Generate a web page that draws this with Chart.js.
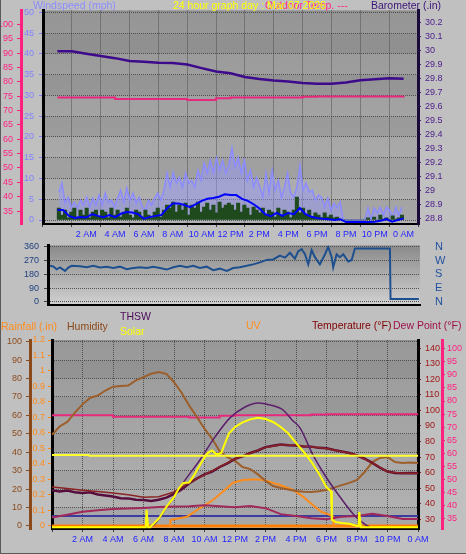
<!DOCTYPE html>
<html>
<head>
<meta charset="utf-8">
<title>24 hour graph</title>
<script src="https://cdn.jsdelivr.net/npm/chart.js@4.4.1/dist/chart.umd.min.js"></script>
<style>
  html, body { margin: 0; padding: 0; }
  body {
    position: relative; width: 466px; height: 554px; overflow: hidden;
    background: #c0c0c0; font-family: 'Liberation Sans', Arial, sans-serif;
  }
  canvas { position: absolute; left: 0; }
  .frame {
    position: absolute; left: 0; top: 0; width: 465px; height: 553px;
    border-left: 1px solid #5a5a5a; border-bottom: 1px solid #5a5a5a;
  }
  .lbl { position: absolute; font-size: 10.5px; line-height: 12px; white-space: nowrap; }
</style>
</head>
<body>
<canvas id="topChart" width="466" height="246" style="top:0"></canvas>
<canvas id="dirChart" width="466" height="80" style="top:235px"></canvas>
<canvas id="lowChart" width="466" height="236" style="top:318px"></canvas>

<div class="lbl" style="left:33px;top:-1px;color:#8c8cff">Windspeed (mph)</div>
<div class="lbl" style="left:265px;top:-1px;color:#ff2a8a">Outdoor Temp. ---</div>
<div class="lbl" style="left:173px;top:-1px;color:#ffff00">24 hour graph day : Mar 07 2026</div>
<div class="lbl" style="left:371px;top:-1px;color:#3a1478">Barometer (.in)</div>

<div class="lbl" style="left:1px;top:320px;color:#ff8c1a">Rainfall (.in)</div>
<div class="lbl" style="left:67px;top:320px;color:#8b4a1b">Humidity</div>
<div class="lbl" style="left:120px;top:310px;color:#4b0a5a">THSW</div>
<div class="lbl" style="left:120px;top:325px;color:#ffff00">Solar</div>
<div class="lbl" style="left:246px;top:319px;color:#ff8c1a">UV</div>
<div class="lbl" style="left:312px;top:319px;color:#800000">Temperature (°F)</div>
<div class="lbl" style="left:393px;top:319px;color:#a0104a">Dew Point (°F)</div>
<div class="frame"></div>

<script>
// shared time axis (hours of the day)
const hourTicks = [0, 2, 4, 6, 8, 10, 12, 14, 16, 18, 20, 22, 24];
const hourLabels = ['', '2 AM', '4 AM', '6 AM', '8 AM', '10 AM', '12 PM',
                    '2 PM', '4 PM', '6 PM', '8 PM', '10 PM', '0 AM'];

// top panel: wind, barometer, outdoor temp
const windStart = 0.1;
const windStep = 0.2143;
const windGust = [
  6.7, 8.9, 4.1, 5.5, 3.1, 4.3, 2.9, 4.8, 3.6, 5.5, 3.1, 5.3, 3.6, 6.0, 3.6, 6.5,
  4.1, 4.8, 3.1, 5.3, 7.2, 4.3, 7.7, 4.8, 6.5, 4.1, 5.5, 3.1, 2.4, 4.8, 3.6, 5.3,
  6.5, 4.8, 7.2, 11.3, 7.9, 11.5, 8.9, 10.3, 7.9, 11.3, 8.9, 9.6, 7.9, 12.0, 9.6, 13.7,
  11.3, 14.4, 11.3, 14.9, 12.0, 14.4, 11.3, 13.2,
  17.3, 12.7, 15.1, 11.3, 14.4, 9.6, 12.0, 7.9, 10.3, 7.9, 5.5, 11.3, 6.5, 12.0, 7.2, 9.6,
  5.5, 7.9, 11.3, 6.5, 5.5, 7.9, 13.2, 7.2, 8.9, 6.7, 7.2, 4.8, 6.0, 5.5, 3.1, 5.3,
  2.4, 4.1, 2.9, 4.3,
  0, 0, 0, 0, 0, 0, 0, 0,
  2.9, 0, 2.9, 1.7, 3.1, 1.2, 3.1, 2.4, 0.7, 3.1, 1.2, 3.1
];
const windNow = [
  2.9, 1.2, 2.4, 0.5, 1.9, 2.9, 0.7, 2.4, 1.2, 2.9, 0.5, 1.9, 2.4, 0.7, 2.4, 1.9,
  0.5, 2.9, 1.2, 2.4, 0.7, 1.9, 2.9, 1.2, 0.5, 2.4, 1.9, 0.7, 2.4, 1.2, 0.5, 1.9,
  2.9, 0.7, 2.4, 3.6,
  2.9, 4.3, 1.9, 3.6, 2.4, 4.1, 1.2, 3.6, 2.9, 4.3, 1.9, 3.1, 4.1, 2.4, 3.6, 1.7,
  4.3, 2.9, 3.6, 4.1,
  3.6, 2.4, 4.1, 1.9, 3.6, 2.9, 1.2, 3.1, 2.4, 1.7, 2.9, 1.2, 2.4, 1.9, 0.7, 2.9,
  1.2, 2.4, 1.9, 0.5,
  2.4, 5.5, 1.7, 2.9, 1.2, 2.4, 0.7, 1.7, 1.2, 0.5, 1.7, 0.7, 1.2, 0.5, 0.7, 0.2,
  0, 0, 0, 0, 0, 0, 0, 0,
  0.5, 0, 0.7, 0, 1.2, 0.2, 0.5, 0, 1.0, 0.2, 0.5, 1.2
];
const windAvgStep = 0.4;
const windAvg = [
  2.4, 2.4, 1.0, 0.5, 0.7, 0.6, 1.4, 1.0, 0.7, 1.2, 0.7, 1.5, 1.9, 1.8, 1.4, 0.3,
  0.7, 1.0, 1.2, 2.8, 4.0, 4.0, 3.6, 3.1, 3.8, 4.6, 5.1, 5.3, 5.6, 6.2, 6.0, 6.0,
  5.1, 4.6, 3.8, 2.8, 1.4, 0.9, 1.7, 1.0, 1.7, 1.4, 2.9, 1.4, 0.8, 0.5, 0.3, 0.2,
  0.0, 0.2, -0.5, -0.5, -0.5, -0.5, -0.5, -0.4, -0.2, 0.2, -0.4, 0.0, 0.4
];
const hourlyStep = 1;
const barometer = [
  29.994, 29.994, 29.977, 29.96, 29.945, 29.924, 29.92, 29.913, 29.911, 29.9,
  29.874, 29.85, 29.838, 29.811, 29.796, 29.786, 29.779, 29.768, 29.762, 29.762,
  29.772, 29.788, 29.795, 29.801, 29.798
];
const outdoorTemp = [
  74.55, 74.55, 74.55, 74.55, 74.0, 74.0, 74.0, 74.0, 74.0, 73.65, 73.65, 74.3,
  74.55, 74.55, 74.55, 74.55, 74.55, 74.8, 74.9, 74.9, 74.9, 74.9, 74.9, 74.9, 75.1
];
const windTicks = [0, 5, 10, 15, 20, 25, 30, 35, 40, 45, 50];
const outTempTicks = [35, 40, 45, 50, 55, 60, 65, 70, 75, 80, 85, 90, 95, 100];
const baroTicks = [28.8, 28.9, 29, 29.1, 29.2, 29.3, 29.4, 29.5, 29.6, 29.7, 29.8, 29.9, 30, 30.1, 30.2];

// middle panel: wind direction
const dirHours = [
  0.13, 0.34, 0.56, 0.77, 1.10, 1.31, 1.53, 2.06, 2.50, 2.92,
  3.35, 3.79, 4.21, 4.64, 5.08, 5.40, 5.93, 6.37, 6.79, 7.22,
  7.66, 8.08, 8.51, 8.95, 9.37, 9.80, 10.24, 10.66, 11.09, 11.53,
  11.95, 12.38, 12.82, 13.24, 13.67, 14.11, 14.53, 14.96, 15.29, 15.61,
  15.93, 16.14, 16.36, 16.58, 16.79, 17.01, 17.22, 17.54, 17.87, 18.08,
  18.30, 18.40, 18.62, 18.83, 19.05, 19.37, 19.59, 19.80, 22.06, 22.10, 23.93
];
const dirDegrees = [
  237, 232, 214, 226, 203, 225, 237, 233, 227, 237,
  226, 231, 222, 231, 214, 220, 227, 222, 231, 222,
  212, 227, 237, 227, 237, 222, 231, 208, 218, 203,
  222, 227, 237, 246, 259, 275, 278, 303, 290, 322,
  284, 331, 346, 312, 246, 340, 293, 246, 312, 360,
  293, 227, 312, 293, 312, 265, 275, 350, 350, 19, 19
];
const dirTicks = [0, 90, 180, 270, 360];
const compassLabels = ['N', 'E', 'S', 'W', 'N'];

// bottom panel
const halfHourStep = 0.5;
const humidity = [
  49.5, 54, 56.5, 61.5, 66, 69.5, 70.8, 73.5, 75.6, 76, 76.2, 79, 80.8, 82.6, 83.6, 82.5,
  78, 72.3, 65.3, 59.2, 52.8, 47.3, 40.5, 37.3, 35.3, 32, 30.9, 28, 24.5, 21.7, 20.6, 19.8,
  19, 18.6, 18.4, 18.9, 19.5, 20.8, 22.2, 23.4, 25, 29.3, 34.7, 36.9, 37.4, 34.7, 34.2, 34.5, 34.2
];
const temperature = [
  50.8, 49.8, 48.7, 47.8, 46.9, 45.7, 44.2, 44.4, 47.5, 53.5, 58.5, 63.8, 68.7,
  72.5, 76.2, 77.9, 77.4, 76.6, 75.5, 73.5, 71.1, 66.3, 60.6, 59.6, 59.6
];
const thsw = [
  48.7, 47.9, 48.5, 47.4, 46.9, 47.3, 45.9, 45.3, 44.6, 43.5, 43.4, 42.5, 42.4, 41.7, 42.5, 43.9,
  46.3, 49.2, 53.1, 56.2, 58.9, 60.6, 63.6, 65.9, 68.8, 70.4, 72.6, 74.2, 76.4, 77.2, 78.1, 77.6,
  77.5, 76.8, 76.7, 75.9, 75.6, 74.5, 73.6, 72.6, 71.0, 68.9, 66.2, 63.2, 60.7, 59.8, 59.5, 59.7, 59.5
];
const dewPoint = [
  35.3, 36.4, 37.5, 38.1, 38.6, 38.8, 39.0, 39.3, 39.5, 39.6, 40.0, 39.6, 39.2,
  39.7, 38.9, 36.6, 35.9, 35.0, 34.6, 35.6, 35.9, 36.7, 35.9, 34.7, 34.7
];
const solarHours = [
  0, 6.15, 6.2, 6.3, 6.45, 7.0, 7.5, 8.0, 8.3, 8.6, 9.0, 9.3, 9.6, 9.9, 10.2,
  10.5, 10.8, 11.1, 11.3, 11.6, 12.0, 12.5, 13.0, 13.5, 14.0, 14.5, 15.0, 15.5, 16.0, 16.5,
  17.0, 17.5, 18.0, 18.3, 18.35, 18.6, 19.0, 19.5, 20.0, 20.1, 20.15, 20.25, 24
];
const solarValues = [
  0, 0, 92, 0, 0, 45, 108, 160, 205, 236, 238, 275, 318, 359, 396,
  410, 388, 396, 440, 500, 535, 560, 576, 584, 578, 562, 535, 500, 450, 402,
  350, 287, 213, 192, 40, 27, 22, 18, 6, 6, 80, 0, 0
];
const solarMaxHours = [
  6.1, 6.43, 7.54, 8.59, 9.70, 10.69, 11.67, 12.66, 13.51, 14.30,
  15.15, 15.74, 16.26, 17.11, 17.97, 18.89, 19.93, 20.59, 20.85
];
const solarMaxValues = [0, 1, 108, 236, 359, 482, 584, 642, 664, 653, 626, 573, 530, 386, 268, 161, 54, 11, 0];
const uvHours = [7.74, 7.76, 8.85, 9.70, 10.56, 11.48, 11.87, 12.52, 13.38, 14.03, 14.95, 15.80, 16.46, 17.11, 17.64, 18.23, 18.43, 18.48];
const uvValues = [0, 0.52, 0.79, 1.47, 2.13, 3.1, 3.52, 3.74, 3.8, 3.69, 3.34, 2.94, 2.4, 1.73, 1.19, 0.93, 0.79, 0];
const solarRefHours = [0, 2.4, 2.45, 24];
const solarRefValues = [386, 386, 382, 382];
const lowRefHours = [0, 24];
const lowRefValues = [59, 59];
const rainHours = [0, 24];
const rainValues = [0, 0];
const humTicks = [0, 10, 20, 30, 40, 50, 60, 70, 80, 90, 100];
const rainTicks = [0, 0.1, 0.2, 0.3, 0.4, 0.5, 0.6, 0.7, 0.8, 0.9, 1, 1.1, 1.2];
const tempTicks = [30, 40, 50, 60, 70, 80, 90, 100, 110, 120, 130, 140];
const dewTicks = [35, 40, 45, 50, 55, 60, 65, 70, 75, 80, 85, 90, 95, 100];

// colours
const pink = '#ff2080';
const lavender = '#8080ff';
const gridColor = '#505050';
const tickFont = { family: "'Liberation Sans Narrow', 'Liberation Sans', Arial, sans-serif", size: 9 };

// helpers
function series(values, start, step) {
  return values.map((v, i) => ({ x: start + i * step, y: v }));
}
function pairs(hours, values) {
  return hours.map((h, i) => ({ x: h, y: values[i] }));
}
function fixedTicks(values) {
  return scale => { scale.ticks = values.map(v => ({ value: v })); };
}
function fixedSize(size) {
  return scale => {
    if (scale.isHorizontal()) scale.height = size; else scale.width = size;
  };
}

function yAxis(o) {
  return {
    position: o.position,
    weight: o.weight || 0,
    display: o.display !== false,
    min: o.min,
    max: o.max,
    afterBuildTicks: o.ticks ? fixedTicks(o.ticks) : undefined,
    afterFit: o.width !== undefined ? fixedSize(o.width) : undefined,
    ticks: {
      autoSkip: false,
      color: o.color,
      font: o.font || tickFont,
      padding: o.padding ?? 4,
      callback: o.format || (v => String(v))
    },
    grid: {
      drawOnChartArea: !!o.grid,
      color: gridColor,
      lineWidth: 1,
      tickLength: o.tickLength ?? 4,
      tickColor: o.tickColor || o.color
    },
    border: { display: true, color: o.borderColor || '#000', width: o.borderWidth ?? 0, dash: [1, 1] }
  };
}

function xAxis(height, showLabels) {
  return {
    type: 'linear',
    min: 0,
    max: 24,
    afterBuildTicks: fixedTicks(hourTicks),
    afterFit: fixedSize(height),
    ticks: {
      display: showLabels,
      autoSkip: false, maxRotation: 0, minRotation: 0,
      color: '#2424ff', font: tickFont, padding: 2,
      callback: (v, i) => hourLabels[i]
    },
    grid: {
      display: showLabels,
      color: gridColor, lineWidth: 1, tickLength: 3, tickColor: '#404040'
    },
    border: { color: '#000', width: 2, dash: [1, 1] }
  };
}

function line(data, axis, color, width, order, extra) {
  return Object.assign({
    type: 'line', data, xAxisID: 'x', yAxisID: axis,
    borderColor: color, borderWidth: width,
    pointRadius: 0, tension: 0, fill: false, order
  }, extra || {});
}

// plot-area background: gradient plus faint alternating bands
const plotBackground = {
  id: 'plotBackground',
  beforeDraw(chart, args, opts) {
    const { ctx, chartArea: a } = chart;
    const g = ctx.createLinearGradient(0, a.top, 0, a.bottom);
    g.addColorStop(0, opts.top);
    g.addColorStop(1, opts.bottom);
    ctx.save();
    ctx.fillStyle = g;
    ctx.fillRect(a.left, a.top, a.width, a.height);
    if (opts.bandAxis) {
      const s = chart.scales[opts.bandAxis];
      const px = s.ticks.map(t => s.getPixelForValue(t.value)).sort((p, q) => p - q);
      px.unshift(a.top);
      ctx.fillStyle = 'rgba(0, 0, 0, 0.06)';
      for (let i = 0; i + 1 < px.length; i += 2) {
        ctx.fillRect(a.left, px[i], a.width, px[i + 1] - px[i]);
      }
    }
    ctx.restore();
  }
};

function baseOptions(padTop, scales, bg) {
  return {
    responsive: false,
    animation: false,
    events: [],
    layout: { padding: { top: padTop, left: 0, right: 0, bottom: 0 } },
    plugins: { legend: { display: false }, tooltip: { enabled: false }, plotBackground: bg },
    scales
  };
}

// top chart
new Chart(document.getElementById('topChart'), {
  type: 'line',
  data: {
    datasets: [
      line(series(windAvg, 0, windAvgStep), 'yWind', '#0000ff', 2, 0),
      {
        type: 'bar', data: series(windNow, windStart, windStep),
        xAxisID: 'x', yAxisID: 'yWind', backgroundColor: '#1e4a1e',
        borderWidth: 0, barThickness: 3.4, grouped: false, order: 1
      },
      line(series(windGust, windStart, windStep), 'yWind', '#8c8cff', 1.5, 2,
        { fill: 'origin', backgroundColor: 'rgba(150, 150, 255, 0.45)' }),
      line(series(outdoorTemp, 0, hourlyStep), 'yOut', '#e8287c', 2, 3, { stepped: true }),
      line(series(barometer, 0, hourlyStep), 'yBaro', '#3d0a8c', 2.5, 4)
    ]
  },
  options: baseOptions(10, {
    x: xAxis(22, true),
    yOut: yAxis({ position: 'left', weight: 2, min: 30.48, max: 104.87, ticks: outTempTicks,
      width: 21, color: pink, borderColor: pink, borderWidth: 3, padding: 4 }),
    yWind: yAxis({ position: 'left', weight: 1, min: -0.96, max: 50.48, ticks: windTicks,
      width: 22, color: lavender, borderColor: '#000', borderWidth: 3, padding: 5, grid: true }),
    yBaro: yAxis({ position: 'right', min: 28.764, max: 30.285, ticks: baroTicks,
      width: 48, color: '#4b1a8b', borderColor: '#1a0a3a', borderWidth: 3, tickLength: 3, padding: 4 })
  }, { top: '#959595', bottom: '#b2b2b2', bandAxis: 'yWind' }),
  plugins: [plotBackground]
});

// wind direction chart
new Chart(document.getElementById('dirChart'), {
  type: 'line',
  data: {
    datasets: [line(pairs(dirHours, dirDegrees), 'yDir', '#1e4f8e', 2, 0)]
  },
  options: baseOptions(10, {
    x: xAxis(2, false),
    yDir: yAxis({ position: 'left', min: -17, max: 370, ticks: dirTicks,
      width: 48, color: '#204080', borderColor: '#000', borderWidth: 3, padding: 5, grid: true,
      tickColor: '#404040' }),
    yCompass: yAxis({ position: 'right', min: -17, max: 370, ticks: dirTicks,
      width: 46, color: '#1f4f9f', tickLength: 13, tickColor: 'rgba(0,0,0,0)', padding: 2,
      font: { family: "'Liberation Sans', Arial, sans-serif", size: 11 },
      format: (v, i) => compassLabels[i] })
  }, { top: '#8a8a8a', bottom: '#d0d0d0' }),
  plugins: [plotBackground]
});

// bottom chart
new Chart(document.getElementById('lowChart'), {
  type: 'line',
  data: {
    datasets: [
      line(pairs(solarHours, solarValues), 'ySolar', '#ffff00', 2, 0),
      line(pairs(solarRefHours, solarRefValues), 'ySolar', '#ffff30', 2, 1),
      line(pairs(solarMaxHours, solarMaxValues), 'ySolar', '#5c1f6b', 1.5, 2, { cubicInterpolationMode: 'monotone' }),
      line(series(temperature, 0, hourlyStep), 'yTemp', '#8b2323', 1.5, 3),
      line(series(thsw, 0, halfHourStep), 'yTemp', '#560c3c', 2.5, 4),
      line(series(humidity, 0, halfHourStep), 'yHum', '#9c5f2c', 2, 5),
      line(series(dewPoint, 0, hourlyStep), 'yDew', '#a0285a', 2, 6),
      line(pairs(uvHours, uvValues), 'yUV', '#ff8c1a', 2, 7),
      line(pairs(lowRefHours, lowRefValues), 'ySolar', '#3c3ca0', 2, 8),
      line(series(outdoorTemp, 0, hourlyStep), 'yDew', '#e8287c', 2, 9, { stepped: true }),
      line(pairs(rainHours, rainValues), 'yRain', '#ff8000', 3, 10)
    ]
  },
  options: baseOptions(22, {
    x: xAxis(25, true),
    yHum: yAxis({ position: 'left', weight: 2, min: -1.63, max: 100.92, ticks: humTicks,
      width: 30, color: '#8b4a1b', borderColor: '#8b4a1b', borderWidth: 3, padding: 4, grid: true }),
    yRain: yAxis({ position: 'left', weight: 1, min: -0.02, max: 1.2, ticks: rainTicks,
      width: 22, color: '#ff8c1a', borderColor: '#000', borderWidth: 3, padding: 3 }),
    yTemp: yAxis({ position: 'right', weight: 1, min: 23.7, max: 145.3, ticks: tempTicks,
      width: 24, color: '#a01818', borderColor: '#000', borderWidth: 3, tickLength: 3, padding: 4 }),
    yDew: yAxis({ position: 'right', weight: 2, min: 30.9, max: 103.4, ticks: dewTicks,
      width: 24, color: pink, borderColor: pink, borderWidth: 3, tickLength: 3, padding: 2 }),
    ySolar: { display: false, min: -10, max: 1000 },
    yUV: { display: false, min: -0.2, max: 15 }
  }, { top: '#989898', bottom: '#b4b4b4', bandAxis: 'yHum' }),
  plugins: [plotBackground]
});
</script>
</body>
</html>
